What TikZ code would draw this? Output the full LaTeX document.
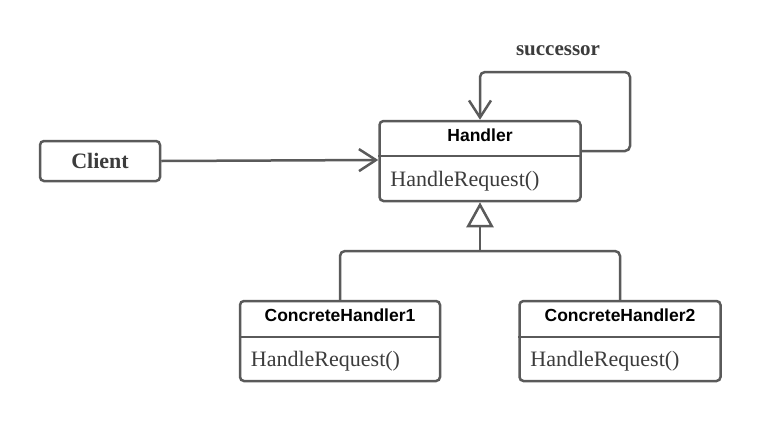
\documentclass[tikz,border=0pt]{standalone}
\usepackage{fontspec}
\setmainfont{Liberation Serif}
\setsansfont{Liberation Sans}
\usetikzlibrary{arrows.meta}
\definecolor{ln}{HTML}{5A5A5A}
\definecolor{mt}{HTML}{3C3C3C}
\tikzset{
  box/.style={draw=ln, line width=2.5pt, rounded corners=4pt, fill=white, inner sep=0pt},
  sep/.style={draw=ln, line width=2.5pt},
  hdr/.style={font=\sffamily\bfseries\fontsize{17.5}{20}\selectfont, text=black, anchor=base, inner sep=0pt},
  mth/.style={font=\fontsize{22}{26}\selectfont, text=mt, anchor=base west, inner sep=0pt},
  conn/.style={draw=ln, line width=2.5pt},
  bar/.style={-{Straight Barb[length=17pt,width=22pt,line width=2.5pt]}},
  inh/.style={-{Triangle[open,length=25pt,width=27pt,line width=2.5pt,fill=white]}}
}
\begin{document}
\begin{tikzpicture}[x=1pt,y=-1pt]
\useasboundingbox (0,0) rectangle (760,421);
% Client
\node[box, minimum width=120pt, minimum height=40pt,
      font=\bfseries\fontsize{22}{26}\selectfont, text=mt] (cl) at (100,161) {Client};
% Handler
\node[box, minimum width=201pt, minimum height=80pt] (h) at (480,161) {};
\draw[sep] ([yshift=-36pt]h.north west) -- ([yshift=-36pt]h.north east);
\node[hdr] (ht) at ([yshift=-22pt]h.north) {Handler};
\node[mth] (hm) at ([xshift=12pt,yshift=16pt]h.south west) {HandleRequest()};
% ConcreteHandler1
\node[box, minimum width=200pt, minimum height=80pt] (c1) at (340,341) {};
\draw[sep] ([yshift=-37pt]c1.north west) -- ([yshift=-37pt]c1.north east);
\node[hdr] (c1t) at ([yshift=-22pt]c1.north) {ConcreteHandler1};
\node[mth] (c1m) at ([xshift=12pt,yshift=16pt]c1.south west) {HandleRequest()};
% ConcreteHandler2
\node[box, minimum width=201pt, minimum height=80pt] (c2) at (620,341) {};
\draw[sep] ([yshift=-37pt]c2.north west) -- ([yshift=-37pt]c2.north east);
\node[hdr] (c2t) at ([yshift=-22pt]c2.north) {ConcreteHandler2};
\node[mth] (c2m) at ([xshift=12pt,yshift=16pt]c2.south west) {HandleRequest()};
% Client -> Handler
\draw[conn, bar] (cl.east) -- ([yshift=1pt]cl.east -| h.west);
% successor loop
\coordinate (s1) at (630,72);
\draw[conn, bar, rounded corners=5pt] ([yshift=10pt]h.east) -| (s1) -| (h.north);
\node[font=\bfseries\fontsize{21}{24}\selectfont, text=mt] (sl) at (558,51) {successor};
% inheritance
\coordinate (j) at (480,251);
\draw[conn, rounded corners=5pt] (c1.north) |- (j) -| (c2.north);
\draw[conn, inh] (j) -- (h.south);
\end{tikzpicture}
\end{document}
